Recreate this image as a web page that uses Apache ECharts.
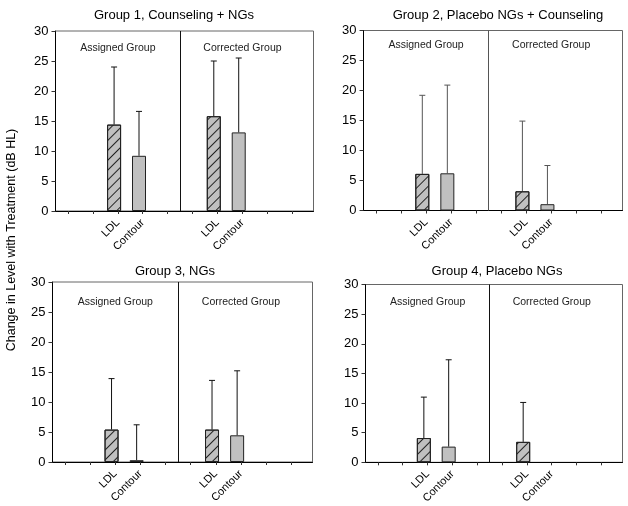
<!DOCTYPE html>
<html>
<head>
<meta charset="utf-8">
<script src="https://cdn.jsdelivr.net/npm/echarts@6/dist/echarts.min.js"></script>
<style>
  html, body { margin: 0; padding: 0; background: #fff; }
  #chart { width: 628px; height: 506px; }
</style>
</head>
<body>
<div id="chart"></div>
<script>
// categories along each panel's x axis (bars sit on the named ones)
const categories = ['', '', 'LDL', 'Contour', '', '', 'LDL', 'Contour', '', '']
const panelTitles = [
  'Group 1, Counseling + NGs',
  'Group 2, Placebo NGs + Counseling',
  'Group 3, NGs',
  'Group 4, Placebo NGs'
]
const sectionLabels = ['Assigned Group', 'Corrected Group']
const yAxisTitle = 'Change in Level with Treatment (dB HL)'

// bar heights (mean) and error bar tops (mean + SD), dB
const g1Mean = [null, null, 14.4, 9.2, null, null, 15.8, 13.1, null, null]
const g1ErrTop = [null, null, 24.0, 16.6, null, null, 25.0, 25.5, null, null]
const g2Mean = [null, null, 6.1, 6.2, null, null, 3.2, 1.05, null, null]
const g2ErrTop = [null, null, 19.2, 20.9, null, null, 14.9, 7.5, null, null]
const g3Mean = [null, null, 5.4, 0.3, null, null, 5.4, 4.45, null, null]
const g3ErrTop = [null, null, 13.9, 6.2, null, null, 13.6, 15.2, null, null]
const g4Mean = [null, null, 4.1, 2.65, null, null, 3.45, null, null, null]
const g4ErrTop = [null, null, 11.0, 17.3, null, null, 10.1, null, null, null]

const means = [g1Mean, g2Mean, g3Mean, g4Mean]
const errTops = [g1ErrTop, g2ErrTop, g3ErrTop, g4ErrTop]

// layout of the four panels
const panels = [
  { left: 55.5, top: 31, width: 258, titleX: 174, titleY: 9, labelY: 27.2, ink: '#111' },
  { left: 363.5, top: 30.5, width: 259, titleX: 498, titleY: 9, labelY: 27.5, ink: '#555' },
  { left: 52.5, top: 282, width: 260, titleX: 175, titleY: 265, labelY: 26.6, ink: '#111' },
  { left: 365.5, top: 284.5, width: 257, titleX: 497, titleY: 265, labelY: 27.1, ink: '#111' }
]
const X_MAX = 10.35 // axis runs a little past the last category
const BAR_SHIFT = -0.15 // bars sit slightly left of their tick
const FONT = 'Liberation Sans, Arial, sans-serif'

const hatch = {
  symbol: 'rect',
  symbolSize: 1,
  dashArrayX: [1, 0],
  dashArrayY: [1, 6],
  rotation: -Math.PI / 4,
  color: '#222'
}

const chart = echarts.init(document.getElementById('chart'))

const grid = []
const xAxis = []
const yAxis = []
const title = []
const series = []

panels.forEach((p, k) => {
  grid.push({
    left: p.left, top: p.top, width: p.width, height: 180,
    show: true, borderColor: '#666', borderWidth: 1, backgroundColor: 'transparent'
  })
  title.push({
    text: panelTitles[k], left: p.titleX, top: p.titleY, textAlign: 'center', padding: 0,
    textStyle: { fontFamily: FONT, fontSize: 13, fontWeight: 'normal', color: '#000' }
  })
  xAxis.push({
    type: 'value', gridIndex: k, min: 0, max: X_MAX,
    splitLine: { show: false },
    axisLine: { show: true, onZero: false, lineStyle: { color: '#000', width: 1 } },
    axisTick: {
      show: true, length: 3, lineStyle: { color: '#333' },
      customValues: categories.map((c, i) => i + 0.5)
    },
    axisLabel: {
      rotate: 45, margin: 10, fontFamily: FONT, fontSize: 11, color: '#000',
      customValues: categories.map((c, i) => (c ? i + 0.5 : null)).filter(v => v !== null),
      formatter: v => categories[Math.floor(v)]
    }
  })
  yAxis.push({
    type: 'value', gridIndex: k, min: 0, max: 30, interval: 5,
    splitLine: { show: false },
    axisLine: { show: true, lineStyle: { color: '#000', width: 1 } },
    axisTick: { show: true, length: 4, lineStyle: { color: '#333' } },
    axisLabel: { margin: 7, fontFamily: FONT, fontSize: 13, color: '#000' }
  })

  const barData = []
  const errData = []
  categories.forEach((c, i) => {
    const m = means[k][i]
    if (m == null) return
    const x = i + 0.5 + BAR_SHIFT
    barData.push({ value: [x, m], itemStyle: c === 'LDL' ? { decal: hatch } : {} })
    errData.push([x, m, errTops[k][i]])
  })

  series.push({
    type: 'bar',
    xAxisIndex: k,
    yAxisIndex: k,
    barWidth: 14,
    data: barData,
    itemStyle: { color: '#c0c0c0', borderColor: '#222', borderWidth: 1 },
    silent: true,
    markLine: {
      silent: true,
      symbol: 'none',
      label: { show: false },
      lineStyle: { type: 'solid', color: p.ink, width: 1 },
      data: [{ xAxis: 5 }]
    },
    markPoint: {
      silent: true,
      symbol: 'circle',
      symbolSize: 0,
      label: {
        show: true, position: 'inside', formatter: '{b}',
        fontFamily: FONT, fontSize: 10.5, color: '#222'
      },
      data: sectionLabels.map((s, j) => ({ name: s, coord: [2.5 + 5 * j, p.labelY] }))
    }
  })

  series.push({
    type: 'custom',
    xAxisIndex: k,
    yAxisIndex: k,
    silent: true,
    data: errData,
    renderItem: (params, api) => {
      const base = api.coord([api.value(0), api.value(1)])
      const top = api.coord([api.value(0), api.value(2)])
      const style = { stroke: p.ink, lineWidth: 1 }
      return {
        type: 'group',
        children: [
          { type: 'line', shape: { x1: base[0], y1: base[1], x2: top[0], y2: top[1] }, style },
          { type: 'line', shape: { x1: top[0] - 3, y1: top[1], x2: top[0] + 3, y2: top[1] }, style }
        ]
      }
    }
  })
})

chart.setOption({
  animation: false,
  backgroundColor: '#fff',
  title,
  grid,
  xAxis,
  yAxis,
  series,
  graphic: [{
    type: 'text',
    x: 12,
    y: 240,
    rotation: Math.PI / 2,
    style: {
      text: yAxisTitle, fontFamily: FONT, fontSize: 12.5, fill: '#000',
      textAlign: 'center', textVerticalAlign: 'middle'
    }
  }]
})
</script>
</body>
</html>
